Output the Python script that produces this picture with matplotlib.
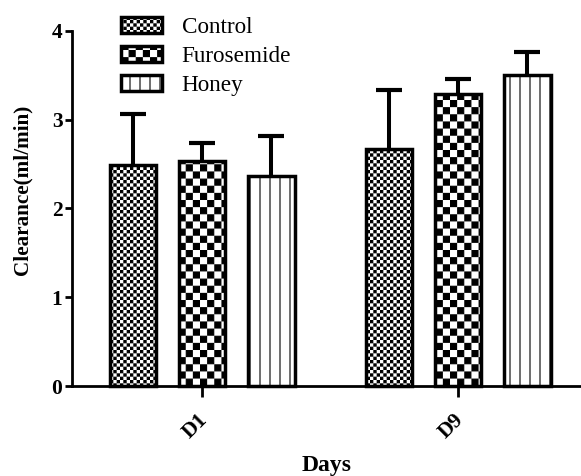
import numpy as np
import matplotlib
matplotlib.use("Agg")
import matplotlib.pyplot as plt
import matplotlib.hatch as mhatch
import matplotlib.transforms as mtransforms
from matplotlib.path import Path

# Data
days = ["D1", "D9"]
groups = ["Control", "Furosemide", "Honey"]
control = [2.49, 2.67]
furosemide = [2.53, 3.29]
honey = [2.37, 3.50]
control_err = [0.57, 0.66]
furosemide_err = [0.21, 0.17]
honey_err = [0.45, 0.26]

HATCH_LW = 0.8


# checkerboard hatch: 'c' coarse, 'C' fine
class Checker(mhatch.HatchPatternBase):
    def __init__(self, hatch, density):
        self.n = 0
        if "C" in hatch:
            self.n = 30
        elif "c" in hatch:
            self.n = 14
        self.cells = [(i, j) for i in range(self.n) for j in range(self.n)
                      if (i + j) % 2 == 0]
        self.num_vertices = len(self.cells) * 5

    def set_vertices_and_codes(self, vertices, codes):
        s = 1.0 / self.n
        shrink = HATCH_LW / 72 / 2  # the hatch stroke adds this back
        k = 0
        for i, j in self.cells:
            x0, y0 = i * s + shrink, j * s + shrink
            x1, y1 = (i + 1) * s - shrink, (j + 1) * s - shrink
            vertices[k:k + 5] = [(x0, y0), (x1, y0), (x1, y1), (x0, y1), (x0, y0)]
            codes[k:k + 5] = [Path.MOVETO, Path.LINETO, Path.LINETO,
                              Path.LINETO, Path.CLOSEPOLY]
            k += 5


# vertical lines, 10 per hatch tile
class VLines(mhatch.HatchPatternBase):
    def __init__(self, hatch, density):
        self.n = 10 if "v" in hatch else 0
        self.num_vertices = self.n * 2

    def set_vertices_and_codes(self, vertices, codes):
        xs = np.arange(self.n) / self.n
        vertices[0::2, 0] = xs
        vertices[0::2, 1] = 0.0
        vertices[1::2, 0] = xs
        vertices[1::2, 1] = 1.0
        codes[0::2] = Path.MOVETO
        codes[1::2] = Path.LINETO


mhatch._hatch_types.append(Checker)
mhatch._hatch_types.append(VLines)

plt.rcParams["font.family"] = ["Liberation Serif", "DejaVu Serif"]
plt.rcParams["hatch.linewidth"] = HATCH_LW
plt.rcParams["hatch.color"] = "black"

fig = plt.figure(figsize=(5.81, 4.76), dpi=100)
ax = fig.add_axes([0.124, 0.189, 0.876, 0.746])

x = np.arange(len(days))
width = 0.18
step = 0.271
series = [control, furosemide, honey]
errors = [control_err, furosemide_err, honey_err]
hatches = ["C", "c", "v"]

for k in range(3):
    pos = x + (k - 1) * step
    ax.bar(pos, series[k], width, color="white", edgecolor="black",
           linewidth=2.5, hatch=hatches[k], label=groups[k], zorder=3)
    eb = ax.errorbar(pos, series[k], yerr=[np.zeros(2), errors[k]], fmt="none",
                     ecolor="black", elinewidth=2.9, capsize=9.7, capthick=3,
                     zorder=2)
    eb[1][0].set_visible(False)

ax.set_xlim(-0.508, 1.48)
ax.set_ylim(0, 4)
ax.set_yticks([0, 1, 2, 3, 4])
ax.set_xticks(x)
ax.set_xticklabels(days, rotation=45, ha="right", va="top",
                   rotation_mode="anchor")

for side in ["top", "right"]:
    ax.spines[side].set_visible(False)
ax.spines["left"].set_linewidth(2)
ax.spines["bottom"].set_linewidth(2)
ax.spines["left"].set_bounds(0, 4)

ax.tick_params(axis="y", direction="out", length=5, width=2, labelsize=15.5, pad=2)
ax.tick_params(axis="x", direction="out", length=8, width=2, labelsize=15.5, pad=9)
for lbl in ax.get_xticklabels() + ax.get_yticklabels():
    lbl.set_fontweight("bold")

# nudge the rotated day labels a little to the left
shift = mtransforms.ScaledTranslation(-0.05, 0, fig.dpi_scale_trans)
for lbl in ax.get_xticklabels():
    lbl.set_transform(lbl.get_transform() + shift)

ax.set_xlabel("Days", fontsize=17, fontweight="bold", labelpad=9.5)
ax.set_ylabel("Clearance(ml/min)", fontsize=15.2, fontweight="bold")
ax.yaxis.set_label_coords(-0.078, 0.552)

leg = ax.legend(loc="upper left", bbox_to_anchor=(0.097, 1.039), frameon=False,
                fontsize=16.7, handlelength=1.75, handleheight=0.65,
                labelspacing=0.35, handletextpad=0.85, borderpad=0,
                borderaxespad=0)
for c in ax.get_children():
    c.set_clip_on(False)

fig.savefig("out.png", dpi=100)
